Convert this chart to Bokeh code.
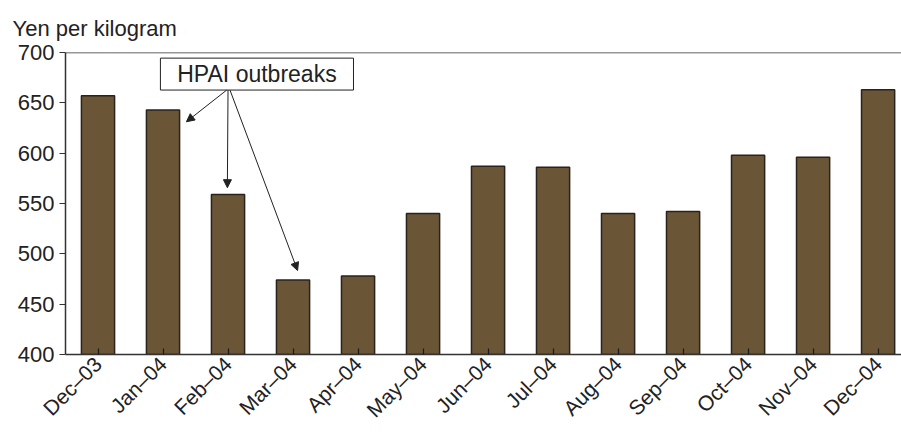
import math
from bokeh.plotting import figure
from bokeh.models import (Range1d, FixedTicker, Span, BoxAnnotation, Label,
                          Arrow, NormalHead, ColumnDataSource, Title)
from bokeh.embed import file_html
from bokeh.resources import INLINE

months = ["Dec\u201303", "Jan\u201304", "Feb\u201304", "Mar\u201304", "Apr\u201304",
          "May\u201304", "Jun\u201304", "Jul\u201304", "Aug\u201304", "Sep\u201304",
          "Oct\u201304", "Nov\u201304", "Dec\u201304"]
prices = [657, 643, 559, 474, 478, 540, 587, 586, 540, 542, 598, 596, 663]
y_ticks = [400, 450, 500, 550, 600, 650, 700]
y_label = "Yen per kilogram"
annotation_text = "HPAI outbreaks"

FONT = "Liberation Sans"
FS = "22px"
TXT = "#222222"
AX = "#333333"
Y0 = y_ticks[0]

xs = list(range(len(months)))
src = ColumnDataSource(dict(x=xs, price=prices))

p = figure(width=901, height=432, output_backend="svg", toolbar_location=None,
           x_range=Range1d(-0.5, 12.36), y_range=Range1d(400, 700),
           min_border_left=65, min_border_right=0, min_border_top=52,
           min_border_bottom=78)
p.outline_line_color = None
p.xgrid.grid_line_color = None
p.ygrid.grid_line_color = None

p.title = Title(text=y_label, align="left", offset=-53,
                text_font=FONT, text_font_size=FS, text_font_style="normal",
                text_color=TXT, standoff=24)

p.vbar(x="x", top="price", bottom=Y0, width=0.51, source=src,
       fill_color="#6b5537", line_color="#2a231c", line_width=1.5)

# x axis
p.xaxis.ticker = FixedTicker(ticks=xs)
p.xaxis.major_label_overrides = {i: m for i, m in enumerate(months)}
p.xaxis.major_label_orientation = math.pi / 4
p.xaxis.major_tick_in = 6
p.xaxis.major_tick_out = 0
p.xaxis.minor_tick_line_color = None
p.xaxis.major_label_standoff = 6
p.xaxis.major_label_text_font = FONT
p.xaxis.major_label_text_font_size = "21px"
p.xaxis.major_label_text_color = TXT
p.xaxis.axis_line_color = AX
p.xaxis.axis_line_width = 1.5
p.xaxis.major_tick_line_color = "#1a1a1a"
p.xaxis.major_tick_line_width = 1.2

# y axis
p.yaxis.ticker = FixedTicker(ticks=y_ticks)
p.yaxis.major_tick_in = 0
p.yaxis.major_tick_out = 6
p.yaxis.minor_tick_line_color = None
p.yaxis.major_label_standoff = 5
p.yaxis.major_label_text_font = FONT
p.yaxis.major_label_text_font_size = FS
p.yaxis.major_label_text_color = TXT
p.yaxis.axis_line_color = AX
p.yaxis.axis_line_width = 1.5
p.yaxis.major_tick_line_color = AX
p.yaxis.major_tick_line_width = 1.2

# top frame line
p.add_layout(Span(location=700, dimension="width", line_color=AX, line_width=1.5))

# annotation box
p.add_layout(BoxAnnotation(left=0.96, right=3.93, top=694.4, bottom=662.7,
                           fill_color="white", fill_alpha=1.0,
                           line_color=TXT, line_width=1, line_alpha=1.0))
p.add_layout(Label(x=2.445, y=678.5, text=annotation_text, text_align="center",
                   text_baseline="middle", text_font=FONT, text_font_size="23px",
                   text_color=TXT))

arrows = [(1.98, 662.7, 1.36, 631.2), (2.0, 662.7, 1.99, 565.7), (2.03, 662.7, 3.07, 483.4)]
for xs0, ys0, xe, ye in arrows:
    p.add_layout(Arrow(end=NormalHead(size=8, fill_color=TXT, line_color=TXT, line_width=1),
                       x_start=xs0, y_start=ys0, x_end=xe, y_end=ye,
                       line_color=TXT, line_width=1))

open("out.html", "w").write(file_html(p, INLINE))
